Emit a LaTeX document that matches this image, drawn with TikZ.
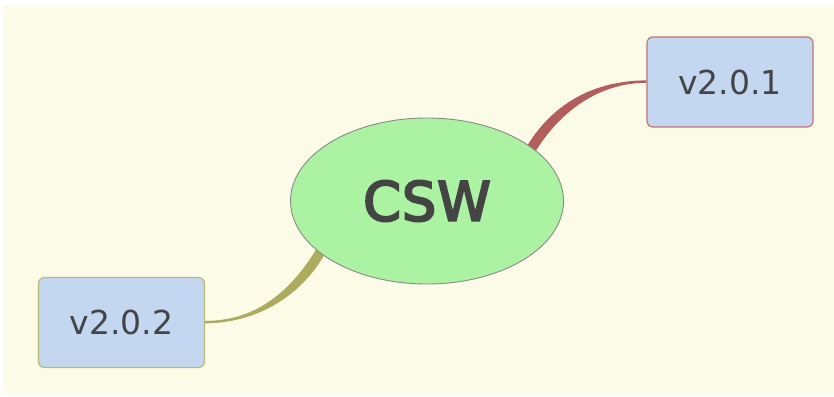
\documentclass[tikz,border=0pt]{standalone}
\usepackage{fontspec}
\setmainfont{DejaVu Sans}
\newfontfamily\centerfont[FakeBold=4,LetterSpace=2]{DejaVu Sans}
\usetikzlibrary{shapes.geometric,calc}
\definecolor{bgc}{HTML}{FCFBE8}
\definecolor{ellfill}{HTML}{ABF3A2}
\definecolor{ellb}{HTML}{8A8A8A}
\definecolor{boxfill}{HTML}{C4D7F1}
\definecolor{redb}{HTML}{C27272}
\definecolor{oliveb}{HTML}{B9B877}
\definecolor{redc}{HTML}{B35D5D}
\definecolor{olivec}{HTML}{ADAB5E}
\definecolor{txt}{HTML}{444444}
\pgfdeclarelayer{bg}
\pgfdeclarelayer{conn}
\pgfsetlayers{bg,conn,main}
\tikzset{
  leaf/.style={draw, line width=1.2pt, fill=boxfill, rounded corners=6pt,
    minimum width=166pt, minimum height=90pt, inner sep=0pt,
    font=\fontsize{33}{36}\selectfont, text=txt},
  center/.style={ellipse, draw=ellb, line width=0.9pt, fill=ellfill,
    minimum width=273pt, minimum height=166pt, inner sep=0pt,
    font=\centerfont\fontsize{54}{60}\selectfont, text=txt}
}
\begin{document}
\begin{tikzpicture}[x=1pt,y=-1pt]
\useasboundingbox (0,0) rectangle (834,396);
\begin{pgfonlayer}{bg}
\fill[bgc] (3,5) rectangle (834,393);
\end{pgfonlayer}
\node[center] (csw) at (427,201) {CSW};
\node[leaf, draw=redb] (v1) at (730,82) {v2.0.1};
\node[leaf, draw=oliveb] (v2) at (121.5,322.5) {v2.0.2};
\begin{pgfonlayer}{conn}
\fill[redc] ($(csw.center)+(96,-48)$) .. controls +(30,-55) and +(-45,0) .. ($(v1.west)+(0,-1.6)$)
  -- ($(v1.west)+(0,0.8)$) .. controls +(-45,0) and +(28,-50) .. ($(csw.center)+(104,-42)$) -- cycle;
\fill[olivec] ($(csw.center)+(-110,47)$) .. controls +(-30,50) and +(45,0) .. ($(v2.east)+(0,-1.6)$)
  -- ($(v2.east)+(0,0.8)$) .. controls +(45,0) and +(-28,48) .. ($(csw.center)+(-102,53)$) -- cycle;
\end{pgfonlayer}
\end{tikzpicture}
\end{document}
